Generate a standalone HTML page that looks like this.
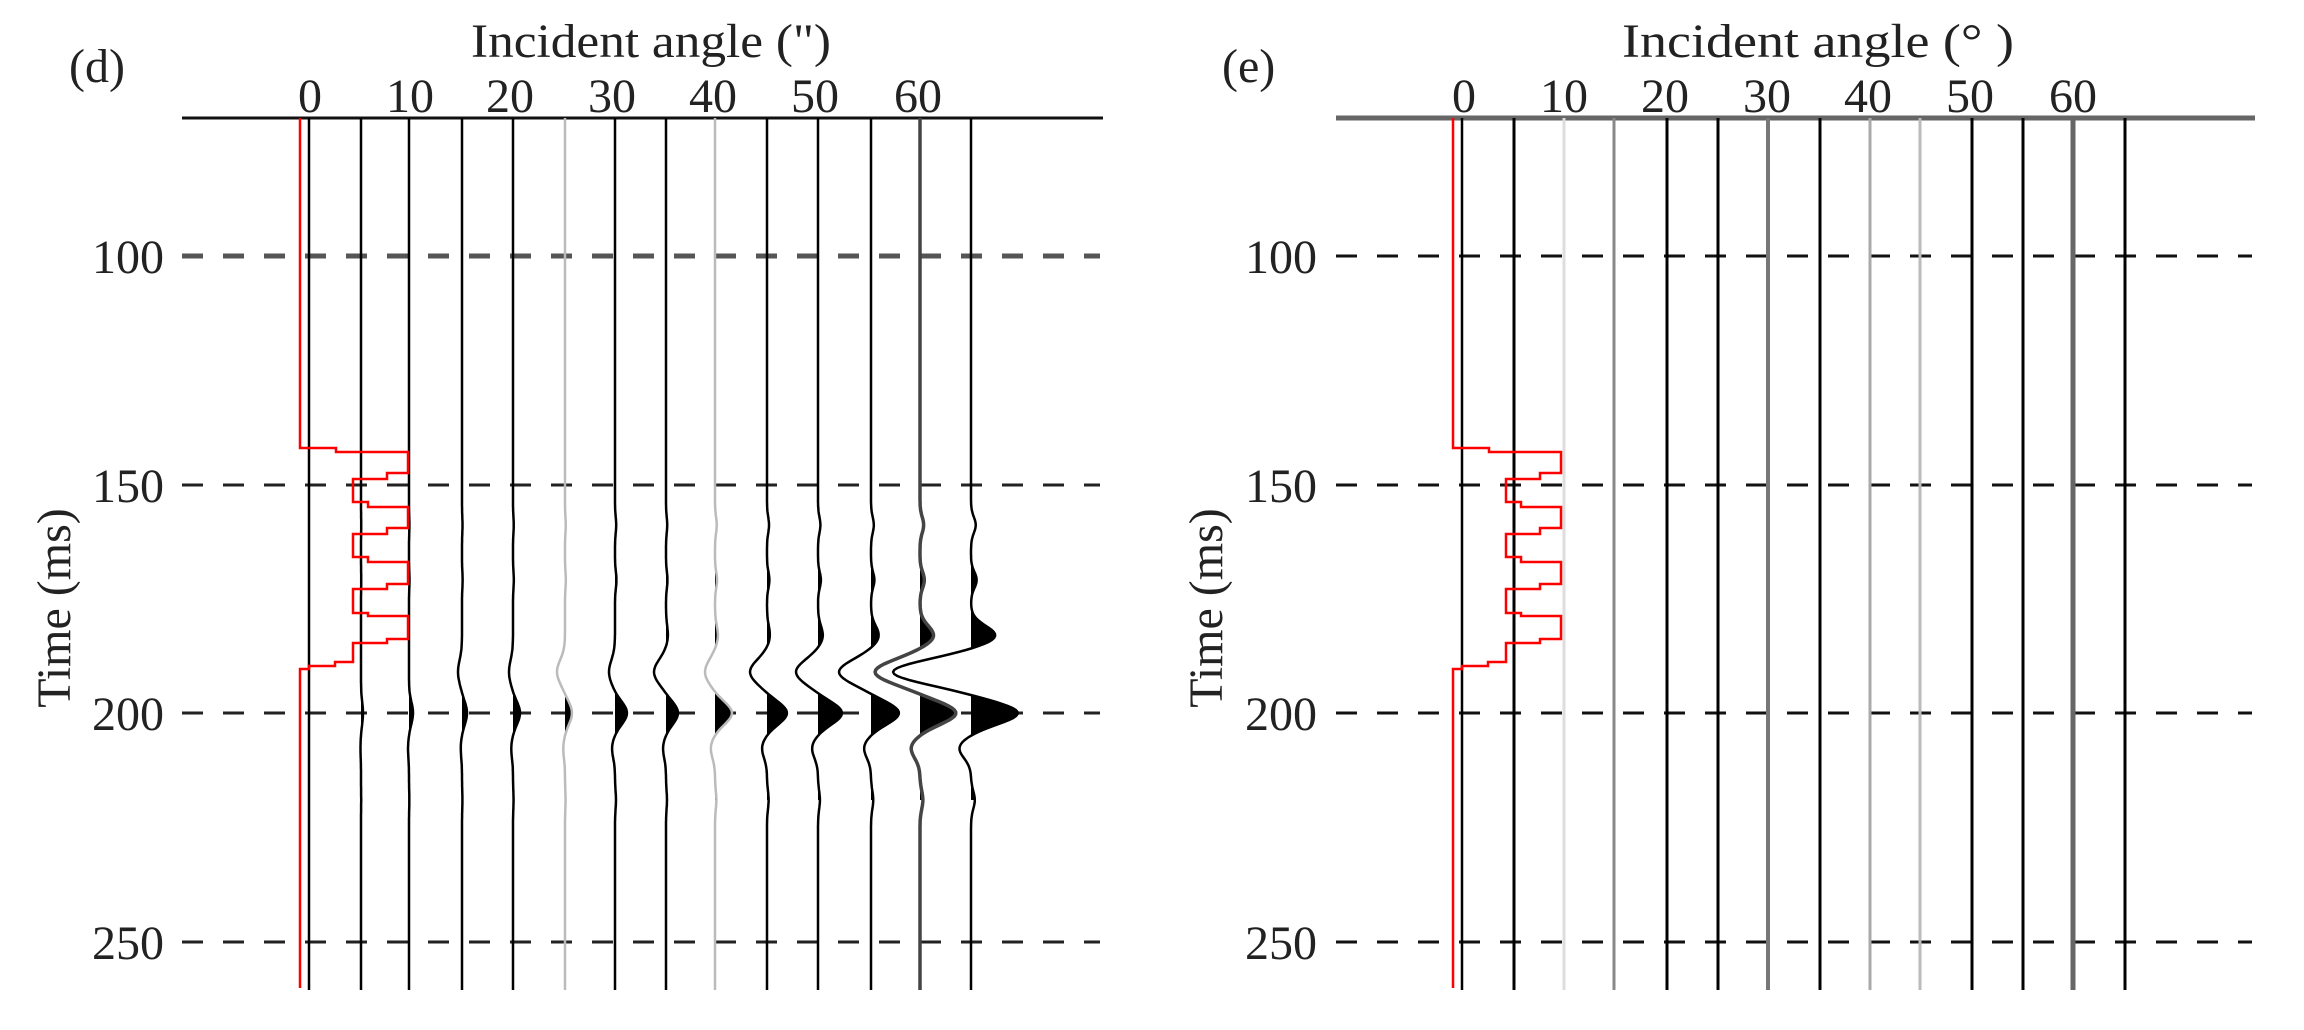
<!DOCTYPE html>
<html><head><meta charset="utf-8"><style>
html,body{margin:0;padding:0;background:#fff;}
svg{display:block;}
text{font-family:"Liberation Serif",serif;fill:#222;}
</style></head><body>
<svg id="s" width="2304" height="1030" viewBox="0 0 2304 1030" xmlns="http://www.w3.org/2000/svg">
<g id="g"></g>
<!-- left panel text -->
<text x="69" y="82" font-size="48">(d)</text>
<text x="471" y="57" font-size="48" textLength="360" lengthAdjust="spacingAndGlyphs">Incident angle (")</text>
<g font-size="48" text-anchor="middle">
<text x="310" y="112">0</text><text x="410" y="112">10</text><text x="510" y="112">20</text>
<text x="612" y="112">30</text><text x="713" y="112">40</text><text x="815" y="112">50</text><text x="918" y="112">60</text>
</g>
<g font-size="48" text-anchor="end">
<text x="164" y="273">100</text><text x="164" y="502">150</text><text x="164" y="730">200</text><text x="164" y="959">250</text>
</g>
<text transform="translate(70,608) rotate(-90)" font-size="48" text-anchor="middle">Time (ms)</text>
<!-- right panel text -->
<text x="1222" y="82" font-size="48">(e)</text>
<text x="1622" y="57" font-size="48" textLength="392" lengthAdjust="spacingAndGlyphs">Incident angle (°  )</text>
<g font-size="48" text-anchor="middle">
<text x="1464" y="112">0</text><text x="1564" y="112">10</text><text x="1665" y="112">20</text>
<text x="1767" y="112">30</text><text x="1868" y="112">40</text><text x="1970" y="112">50</text><text x="2073" y="112">60</text>
</g>
<g font-size="48" text-anchor="end">
<text x="1317" y="273">100</text><text x="1317" y="502">150</text><text x="1317" y="730">200</text><text x="1317" y="959">250</text>
</g>
<text transform="translate(1222,608) rotate(-90)" font-size="48" text-anchor="middle">Time (ms)</text>
</svg>
<script>
(function(){
var NS="http://www.w3.org/2000/svg",g=document.getElementById('g');
function el(t,a){var e=document.createElementNS(NS,t);for(var k in a)e.setAttribute(k,a[k]);g.appendChild(e);return e;}
var L=[309,361,409,462,513,565,615,666,715,767,818,871,920,971];
var R=[1462,1514,1564,1614,1667,1718,1768,1820,1870,1920,1972,2023,2073,2125];
var ys=[256,485,713,942];
function red(x0){
 var pts=[[0,118],[0,448],[36,448],[36,452],[108,452],[108,473],[87,473],[87,479],[53,479],[53,502],[68,502],[68,507],[108,507],[108,528],[87,528],[87,534],[53,534],[53,557],[68,557],[68,562],[108,562],[108,584],[87,584],[87,589],[53,589],[53,613],[68,613],[68,616],[108,616],[108,639],[87,639],[87,643],[53,643],[53,662],[35,662],[35,666],[9,666],[9,669],[0,669],[0,988]];
 el('polyline',{points:pts.map(function(p){return (x0+p[0])+','+p[1];}).join(' '),fill:'none',stroke:'#f00','stroke-width':2.5});
}
el('line',{x1:182,y1:118,x2:1103,y2:118,stroke:'#111','stroke-width':3});
ys.forEach(function(y,i){el('line',{x1:182,y1:y,x2:1100,y2:y,stroke:i==0?'#555':'#222','stroke-width':i==0?5:3,'stroke-dasharray':'21 20'});});
var pk=[0,2,4,5,7,7,12,12,17,20,24,28,36,47];
var tr=[0,0,0,-4,-4,-8,-6,-12,-10,-17,-22,-32,-45,-78];
var p3=[0,0,0,0,0,0,0,2,3,3,5,8,14,25];
function gs(y,c,s){return Math.exp(-((y-c)*(y-c))/(2*s*s));}
L.forEach(function(x,i){
 var col=(i==5||i==8)?'#bbb':(i==12?'#444':'#000');
 var d='M'+x+',118 ';var pd='M'+x+',560 ';
 for(var y=430;y<=990;y+=2){
   var w=pk[i]*gs(y,713,11)+tr[i]*gs(y,672,12)+p3[i]*gs(y,636,10)
     -0.25*pk[i]*gs(y,748,10)+0.12*pk[i]*gs(y,580,8)+0.1*pk[i]*gs(y,525,8)+0.08*pk[i]*gs(y,800,9);
   d+='L'+(x+w).toFixed(1)+','+y+' ';
   if(y>=560&&y<=800) pd+='L'+(x+Math.max(0,w)).toFixed(1)+','+y+' ';
 }
 d+='L'+x+',990';
 pd+='L'+x+',800 Z';
 el('path',{d:pd,fill:'#000',stroke:'none'});
 el('path',{d:d,fill:'none',stroke:col,'stroke-width':i==12?3.5:2.5});
});
red(300);
el('line',{x1:1336,y1:118,x2:2255,y2:118,stroke:'#666','stroke-width':5});
ys.forEach(function(y){el('line',{x1:1336,y1:y,x2:2252,y2:y,stroke:'#111','stroke-width':3,'stroke-dasharray':'21 20'});});
var rc=['#000','#000','#ddd','#888','#000','#000','#777','#000','#aaa','#bbb','#000','#000','#666','#000'];
var rw=[2.5,3,3,3,3,3,4,3,3,3,3,3,5,3];
R.forEach(function(x,i){el('line',{x1:x,y1:118,x2:x,y2:990,stroke:rc[i],'stroke-width':rw[i]});});
red(1453);
})();
</script>
</body></html>
